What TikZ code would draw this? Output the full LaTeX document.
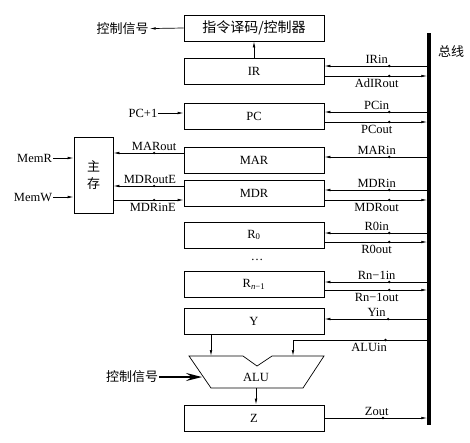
\documentclass[tikz,border=0pt]{standalone}
\usepackage{fontspec}
\setmainfont{Liberation Serif}
\newfontfamily\cjk{Noto Sans CJK SC}
\usetikzlibrary{arrows.meta, positioning}

\begin{document}
\begin{tikzpicture}[
    x=1pt, y=-1pt,
    reg/.style={rectangle, draw, line width=0.7pt, minimum width=140pt, minimum height=26pt, inner sep=0pt, font=\fontsize{12.5}{14}\selectfont},
    lbl/.style={inner sep=1pt, font=\fontsize{12.5}{14}\selectfont},
    sigtxt/.style={inner sep=2.5pt, font=\fontsize{12.5}{14}\selectfont},
    zh/.style={inner sep=1pt, font=\cjk\fontsize{13}{15}\selectfont},
    arrow/.style={-{Latex[length=6pt, width=2.6pt]}, line width=0.7pt},
    bigarrow/.style={-{Stealth[length=16pt, width=8pt, inset=6pt]}, line width=1.6pt},
    dot/.style={circle, fill, inner sep=0pt, minimum size=2.6pt},
    bus/.style={line width=3.5pt},
]
    \useasboundingbox (0,0) rectangle (470,442);

    \node[reg, font=\cjk\fontsize{14}{16}\selectfont] (dec) at (254,28) {指令译码/控制器};
    \node[reg] (ir) at (254,71) {IR};
    \node[reg] (pc) at (254,116) {PC};
    \node[reg] (mar) at (254,160) {MAR};
    \node[reg] (mdr) at (254,193.5) {MDR};
    \node[reg] (r0) at (254,235) {R\textsubscript{0}};
    \node[lbl] (dots) at (257,260) {\dots};
    \node[reg] (rn) at (254,284.5) {R\textsubscript{\textit{n}−1}};
    \node[reg] (yreg) at (254,321.5) {Y};
    \node[reg] (z) at (254,418) {Z};

    \node[draw, line width=0.7pt, minimum width=39pt, minimum height=76pt, align=center, font=\cjk\fontsize{13}{17}\selectfont] (mem) at (93.5,175) {主\\存};
    \node[lbl] (memr) at (34.5,158) {MemR};
    \node[lbl] (memw) at (33,197) {MemW};
    \node[zh] (ctltop) at (122.5,29) {控制信号};
    \node[lbl] (pcinc) at (143,113) {PC+1};
    \node[zh] (ctlalu) at (132,377) {控制信号};
    \node[zh] (buslbl) at (451,52) {总线};

    \draw[line width=0.7pt] (189,356) -- (243,356) -- (257,366) -- (272,356) -- (324,356) -- (303,388) -- (211,388) -- cycle;
    \node[lbl] (alu) at (256,377) {ALU};
    \coordinate (aluA) at (211,356);
    \coordinate (aluB) at (293,356);
    \coordinate (aluOut) at (256,388);
    \coordinate (aluL) at (202,377);

    \coordinate (busT) at (429,33);
    \coordinate (busB) at (429,425);
    \coordinate (aluin) at (429,340);
    \draw[bus] (busT) -- (busB);

    \draw[arrow] (dec.west) -- (ctltop);
    \draw[arrow] (ir) -- (dec);
    \draw[arrow] (pcinc) -- (pcinc -| pc.west);
    \draw[arrow] (memr) -- (memr -| mem.west);
    \draw[arrow] (memw) -- (memw -| mem.west);

    \draw[arrow] ([yshift=7pt]mar.west) -- node[dot, pos=0.42]{} node[sigtxt, above, pos=0.42]{MARout} ([yshift=7pt]mar.west -| mem.east);
    \draw[arrow] ([yshift=7.5pt]mdr.west) -- node[dot, pos=0.42]{} node[sigtxt, above, pos=0.48]{MDRoutE} ([yshift=7.5pt]mdr.west -| mem.east);
    \draw[arrow] ([yshift=-6.5pt]mdr.west -| mem.east) -- node[dot, pos=0.58]{} node[sigtxt, below, pos=0.56]{MDRinE} ([yshift=-6.5pt]mdr.west);

    \draw[arrow] ([yshift=5pt]ir.east -| busT) -- node[dot, pos=0.38]{} node[sigtxt, above]{IRin} ([yshift=5pt]ir.east);
    \draw[arrow, shorten >=1.75pt] ([yshift=-5pt]ir.east) -- node[dot, pos=0.62]{} node[sigtxt, below]{AdIRout} ([yshift=-5pt]ir.east -| busT);
    \draw[arrow] ([yshift=4pt]pc.east -| busT) -- node[dot, pos=0.38]{} node[sigtxt, above]{PCin} ([yshift=4pt]pc.east);
    \draw[arrow, shorten >=1.75pt] ([yshift=-6pt]pc.east) -- node[dot, pos=0.62]{} node[sigtxt, below]{PCout} ([yshift=-6pt]pc.east -| busT);
    \draw[arrow] ([yshift=3pt]mar.east -| busT) -- node[dot, pos=0.38]{} node[sigtxt, above]{MARin} ([yshift=3pt]mar.east);
    \draw[arrow] ([yshift=3.5pt]mdr.east -| busT) -- node[dot, pos=0.38]{} node[sigtxt, above]{MDRin} ([yshift=3.5pt]mdr.east);
    \draw[arrow, shorten >=1.75pt] ([yshift=-6.5pt]mdr.east) -- node[dot, pos=0.62]{} node[sigtxt, below]{MDRout} ([yshift=-6.5pt]mdr.east -| busT);
    \draw[arrow] ([yshift=2pt]r0.east -| busT) -- node[dot, pos=0.38]{} node[sigtxt, above]{R0in} ([yshift=2pt]r0.east);
    \draw[arrow, shorten >=1.75pt] ([yshift=-7pt]r0.east) -- node[dot, pos=0.62]{} node[sigtxt, below]{R0out} ([yshift=-7pt]r0.east -| busT);
    \draw[arrow] ([yshift=2.5pt]rn.east -| busT) -- node[dot, pos=0.38]{} node[sigtxt, above]{Rn−1in} ([yshift=2.5pt]rn.east);
    \draw[arrow, shorten >=1.75pt] ([yshift=-5.5pt]rn.east) -- node[dot, pos=0.62]{} node[sigtxt, below]{Rn−1out} ([yshift=-5.5pt]rn.east -| busT);
    \draw[arrow] ([yshift=2.5pt]yreg.east -| busT) -- node[dot, pos=0.39]{} node[sigtxt, above]{Yin} ([yshift=2.5pt]yreg.east);
    \draw[arrow] (aluin) -| node[dot, pos=0.16]{} node[sigtxt, below, pos=0.22]{ALUin} (aluB);
    \draw[arrow, shorten >=1.75pt] (z.east) -- node[dot, pos=0.56]{} node[sigtxt, above]{Zout} (z.east -| busT);

    \draw[arrow] (yreg.south -| aluA) -- (aluA);
    \draw[arrow] (aluOut) -- (aluOut |- z.north);
    \draw[bigarrow] (ctlalu) -- (aluL);
\end{tikzpicture}
\end{document}
